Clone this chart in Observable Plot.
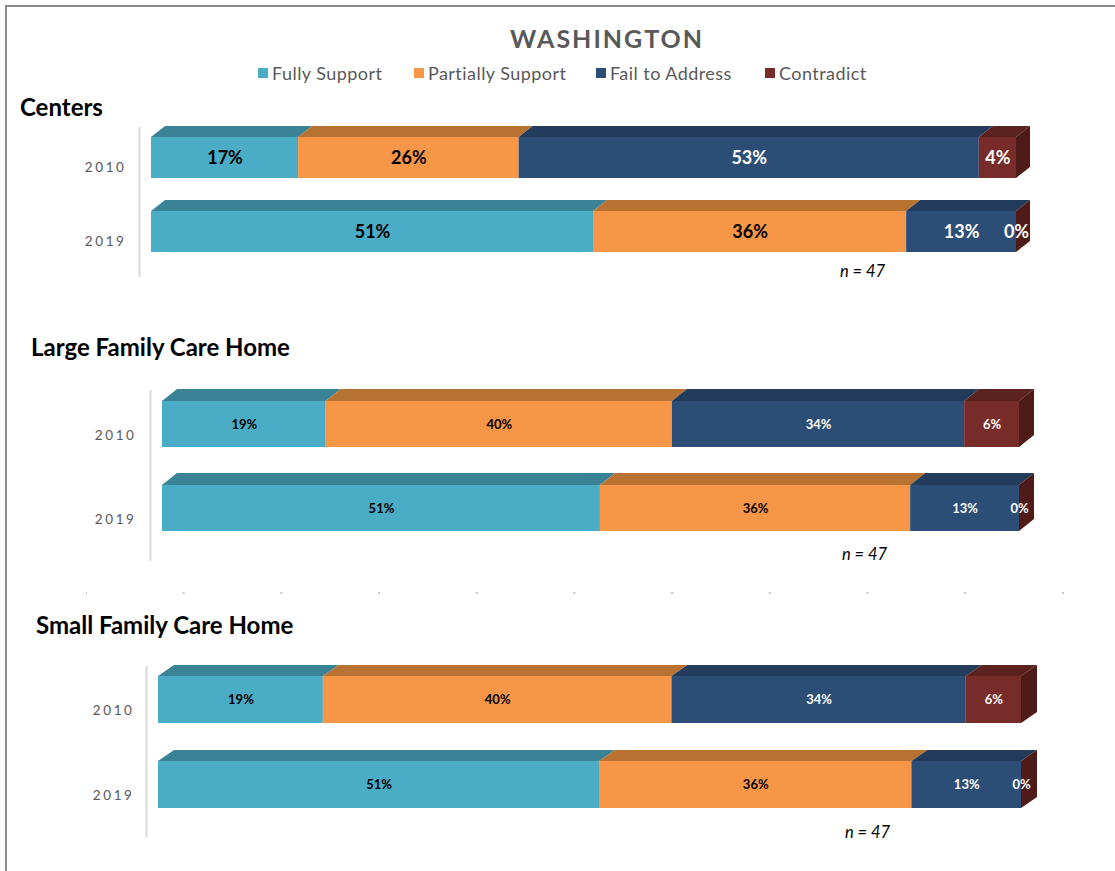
<!DOCTYPE html>
<html>
<head>
<meta charset="utf-8">
<script src="https://cdn.jsdelivr.net/npm/d3@7"></script>
<script src="https://cdn.jsdelivr.net/npm/@observablehq/plot@0.6"></script>
<style>
  html, body { margin: 0; padding: 0; background: #fff; }
  #page { position: relative; width: 1115px; height: 871px; overflow: hidden; font-family: Lato, "Open Sans", sans-serif; }
  #frame { position: absolute; left: 5px; top: 5px; width: 1120px; height: 880px; border-left: 2px solid #8a8a8a; border-top: 2px solid #8a8a8a; box-sizing: border-box; }
  .abs { position: absolute; white-space: nowrap; }
  #title { left: 0; width: 1214px; top: 22px; text-align: center; font-size: 25px; font-weight: 700; color: #595959; letter-spacing: 2px; line-height: 32px; }
  .legsw { position: absolute; width: 10px; height: 10px; }
  .legtx { position: absolute; font-size: 18px; letter-spacing: 0.45px; color: #595959; line-height: 20px; }
  .ptitle { font-size: 24px; font-weight: 700; color: #000; line-height: 26px; }
  .ncap { font-size: 16.5px; font-style: italic; color: #000; line-height: 20px; }
  .panel { position: absolute; left: 0; }
  .panel svg { overflow: visible; }
  .panel g[aria-label^="y-axis"] text { letter-spacing: 2.6px; }
  #dots { left: 86px; top: 592px; width: 980px; height: 2px;
          background-image: radial-gradient(circle, #c8c8c8 0.9px, transparent 1.2px);
          background-size: 97.7px 2px; background-position: -48.85px 0; background-repeat: repeat-x; }
</style>
</head>
<body>
<div id="page">
  <div id="frame"></div>
  <div id="title" class="abs">WASHINGTON</div>
  <div id="dots" class="abs"></div>
</div>
<script>
// ---------- data (percent of n = 47) ----------
const categories = ["Fully Support", "Partially Support", "Fail to Address", "Contradict"];
const years = ["2010", "2019"];
const panelTitles = ["Centers", "Large Family Care Home", "Small Family Care Home"];
const centers2010 = [17.0, 25.5, 53.2, 4.3];
const centers2019 = [51.1, 36.2, 12.7, 0];
const large2010 = [19.1, 40.4, 34.1, 6.4];
const large2019 = [51.1, 36.2, 12.7, 0];
const small2010 = [19.1, 40.4, 34.1, 6.4];
const small2019 = [51.1, 36.2, 12.7, 0];
const sampleSizes = [47, 47, 47];

// ---------- styles ----------
const frontColors = ["#4BACC6", "#F79646", "#2C4D75", "#772C2A"];
const topColors = ["#3A8396", "#B87333", "#233C5C", "#5C2220"];
const sideColor = "#4E1B19";
const labelColors = ["#000000", "#000000", "#FFFFFF", "#FFFFFF"];

// ---------- layout ----------
const layouts = [
  {svgTop: 111, mt: 16, frameH: 135, mb: 24, left: 151, right: 1016, padIn: 0.441, padOut: 0.126, ruleExt: 15, dx: 14, dy: 11, fs: 18, tp: 25, tickDy: 10,
   titleLeft: 20, titleTop: 94, nLeft: 840, nTop: 261},
  {svgTop: 374, mt: 16, frameH: 153, mb: 24, left: 162, right: 1019, padIn: 0.447, padOut: 0.126, ruleExt: 18, dx: 15, dy: 12, fs: 13, tp: 26, tickDy: 11,
   titleLeft: 31, titleTop: 334, nLeft: 842, nTop: 544},
  {svgTop: 650, mt: 16, frameH: 153, mb: 24, left: 158, right: 1021, padIn: 0.445, padOut: 0.121, ruleExt: 18, dx: 16, dy: 11, fs: 13, tp: 24, tickDy: 11,
   titleLeft: 36, titleTop: 612, nLeft: 845, nTop: 822}
];
const panelValues = [[centers2010, centers2019], [large2010, large2019], [small2010, small2019]];

const page = document.getElementById("page");

// legend
const legendX = [258, 414, 596, 765];
categories.forEach((c, i) => {
  const sw = document.createElement("div");
  sw.className = "legsw";
  sw.style.left = legendX[i] + "px"; sw.style.top = "68px"; sw.style.background = frontColors[i];
  page.appendChild(sw);
  const tx = document.createElement("div");
  tx.className = "legtx";
  tx.style.left = (legendX[i] + 14) + "px"; tx.style.top = "63px";
  tx.textContent = c;
  page.appendChild(tx);
});

function makePanel(pi) {
  const cfg = layouts[pi];
  const [v2010, v2019] = panelValues[pi];
  const rows = [];
  years.forEach((yr, j) => {
    const vals = j === 0 ? v2010 : v2019;
    categories.forEach((c, i) => rows.push({year: yr, cat: c, idx: i, value: vals[i]}));
  });
  const totals = years.map((yr, j) => ({year: yr, total: d3.sum(j === 0 ? v2010 : v2019)}));
  const W = 1115;
  const svg = Plot.plot({
    width: W,
    height: cfg.mt + cfg.frameH + cfg.mb,
    marginLeft: cfg.left,
    marginRight: W - cfg.right,
    marginTop: cfg.mt,
    marginBottom: cfg.mb,
    x: {domain: [0, 100], axis: null},
    y: {domain: years, paddingInner: cfg.padIn, paddingOuter: cfg.padOut, tickSize: 0, tickPadding: cfg.tp, label: null},
    color: {type: "identity"},
    style: {fontFamily: "Lato, 'Open Sans', sans-serif", fontSize: "13.5px", color: "#595959", background: "transparent"},
    marks: [
      Plot.ruleX([0], {dx: -12, stroke: "#d9d9d9", strokeWidth: 2, insetBottom: -cfg.ruleExt}),
      Plot.barX(rows, Plot.stackX({x: "value", y: "year", fill: d => topColors[d.idx], ariaDescription: "bar-top"})),
      Plot.barX(rows, Plot.stackX({x: "value", y: "year", fill: d => frontColors[d.idx], ariaDescription: "bar-front"})),
      Plot.barX(totals, {x1: "total", x2: "total", y: "year", insetRight: -cfg.dx, fill: sideColor, ariaDescription: "bar-side"}),
      Plot.text(rows, Plot.stackX({x: "value", y: "year", text: d => Math.round(d.value) + "%",
        fill: d => labelColors[d.idx], fontWeight: "bold", fontSize: cfg.fs}))
    ]
  });
  // locate the bar groups (by description, falling back to order)
  const root = d3.select(svg);
  let topG = root.select('g[aria-description="bar-top"]');
  let sideG = root.select('g[aria-description="bar-side"]');
  const barGroups = root.selectAll('g[aria-label="bar"]').nodes();
  if (topG.empty() && barGroups.length >= 3) topG = d3.select(barGroups[0]);
  if (sideG.empty() && barGroups.length >= 3) sideG = d3.select(barGroups[2]);
  // give the top and side faces their 3D skew
  const angX = Math.atan(cfg.dx / cfg.dy) * 180 / Math.PI;
  const angY = Math.atan(cfg.dy / cfg.dx) * 180 / Math.PI;
  topG.selectAll("rect").each(function() {
    const y = +this.getAttribute("y");
    this.setAttribute("y", y - cfg.dy);
    this.setAttribute("height", cfg.dy);
    this.setAttribute("transform", `translate(0,${y}) skewX(${-angX}) translate(0,${-y})`);
  });
  sideG.selectAll("rect").each(function() {
    const x = +this.getAttribute("x");
    this.setAttribute("transform", `translate(${x},0) skewY(${-angY}) translate(${-x},0)`);
  });
  // Excel-style 3D category labels sit a little below the bar centres
  root.selectAll('g[aria-label^="y-axis"]').each(function() {
    const g = d3.select(this);
    if (g.selectAll("text").empty()) return;
    const prev = g.attr("transform") || "";
    g.attr("transform", `translate(0,${cfg.tickDy}) ${prev}`);
  });
  const wrap = document.createElement("div");
  wrap.className = "panel";
  wrap.style.top = cfg.svgTop + "px";
  wrap.appendChild(svg);
  page.appendChild(wrap);

  const t = document.createElement("div");
  t.className = "abs ptitle";
  t.style.left = cfg.titleLeft + "px"; t.style.top = cfg.titleTop + "px";
  t.textContent = panelTitles[pi];
  page.appendChild(t);

  const n = document.createElement("div");
  n.className = "abs ncap";
  n.style.left = cfg.nLeft + "px"; n.style.top = cfg.nTop + "px";
  n.textContent = "n = " + sampleSizes[pi];
  page.appendChild(n);
}
[0, 1, 2].forEach(makePanel);
</script>
</body>
</html>
